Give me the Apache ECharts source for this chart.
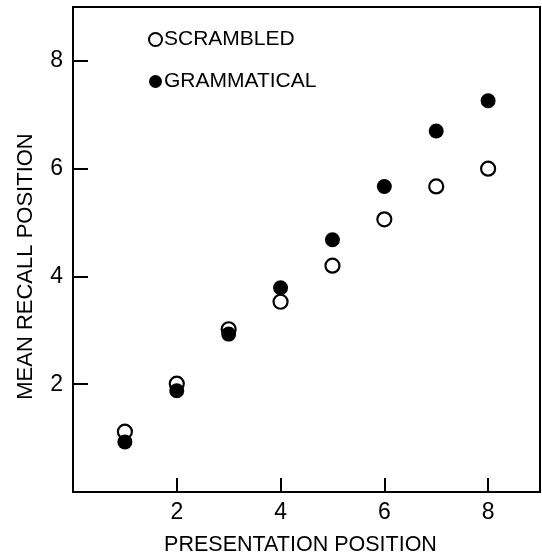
<!DOCTYPE html>
<html>
<head>
<meta charset="utf-8">
<script src="https://cdn.jsdelivr.net/npm/echarts@6/dist/echarts.min.js"></script>
<style>
  html, body { margin: 0; padding: 0; background: #fff; }
  #chart { width: 542px; height: 560px; }
</style>
</head>
<body>
<div id="chart"></div>
<script>
// presentation positions 1..8
const positions = [1, 2, 3, 4, 5, 6, 7, 8];
const scrambled = [1.12, 2.01, 3.02, 3.53, 4.2, 5.06, 5.67, 6.0];
const grammatical = [0.93, 1.88, 2.93, 3.79, 4.68, 5.67, 6.7, 7.26];
const tickLabels = ["2", "4", "6", "8"];

const font = "Liberation Sans";

const pairs = (ys) => positions.map((x, i) => [x, ys[i]]);
const tickFmt = (v) => (tickLabels.includes(String(v)) ? String(v) : "");

const chart = echarts.init(document.getElementById("chart"));
chart.setOption({
  backgroundColor: "#fff",
  animation: false,
  grid: {
    left: 73,
    right: 2,
    top: 7,
    bottom: 68,
    show: true,
    borderColor: "#000",
    borderWidth: 2,
    outerBoundsMode: "none"
  },
  legend: {
    orient: "vertical",
    left: 143,
    top: 24,
    itemWidth: 13,
    itemHeight: 13,
    itemGap: 21,
    selectedMode: false,
    textStyle: { fontFamily: font, fontSize: 21, color: "#000", padding: [0, 0, 0, -3] },
    data: ["SCRAMBLED", "GRAMMATICAL"]
  },
  xAxis: {
    type: "value",
    min: 0,
    max: 9,
    interval: 2,
    name: "PRESENTATION POSITION",
    nameLocation: "middle",
    nameGap: 42,
    nameTextStyle: { fontFamily: font, fontSize: 21.5, color: "#000", padding: [0, 12, 0, 0] },
    axisLine: { show: true, lineStyle: { color: "#000", width: 2 } },
    axisTick: { show: true, inside: true, length: 14, lineStyle: { color: "#000", width: 2 } },
    axisLabel: { fontFamily: font, fontSize: 23, color: "#000", margin: 9, formatter: tickFmt },
    splitLine: { show: false }
  },
  yAxis: {
    type: "value",
    min: 0,
    max: 9,
    interval: 2,
    name: "MEAN RECALL POSITION",
    nameLocation: "middle",
    nameGap: 36,
    nameTextStyle: { fontFamily: font, fontSize: 22, color: "#000", padding: [0, 34, 0, 0] },
    axisLine: { show: true, lineStyle: { color: "#000", width: 2 } },
    axisTick: { show: true, inside: true, length: 15, lineStyle: { color: "#000", width: 2 } },
    axisLabel: { fontFamily: font, fontSize: 23, color: "#000", margin: 10, formatter: tickFmt },
    splitLine: { show: false }
  },
  series: [
    {
      name: "SCRAMBLED",
      type: "scatter",
      symbol: "circle",
      symbolSize: 14,
      itemStyle: { color: "#fff", borderColor: "#000", borderWidth: 2.2, opacity: 1 },
      data: pairs(scrambled)
    },
    {
      name: "GRAMMATICAL",
      type: "scatter",
      symbol: "circle",
      symbolSize: 15,
      itemStyle: { color: "#000", opacity: 1 },
      data: pairs(grammatical)
    }
  ]
});
</script>
</body>
</html>
